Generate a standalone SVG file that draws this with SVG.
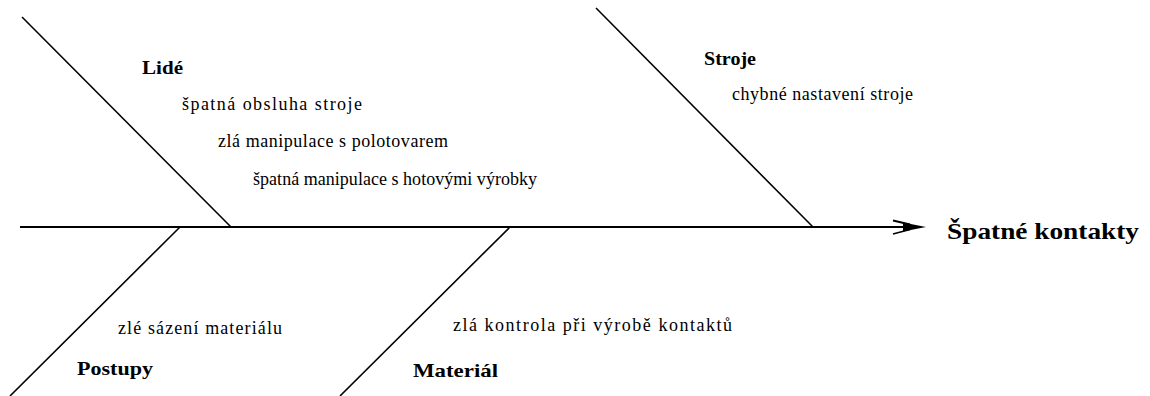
<svg xmlns="http://www.w3.org/2000/svg" width="1150" height="396" viewBox="0 0 1150 396">
  <style>
    .spine { stroke: #000; stroke-width: 2.2; fill: none; }
    .bone { stroke: #000; stroke-width: 1.6; fill: none; }
    .cat { font-weight: bold; font-size: 19px; }
    .cause { font-size: 18px; }
    .effect { font-weight: bold; font-size: 23px; }
  </style>
  <rect width="1150" height="396" fill="#fff"/>

  <!-- spine and bones -->
  <g id="connectors">
    <line class="spine" x1="20" y1="227" x2="912" y2="227"/>
    <!-- barbed arrowhead at the effect end -->
    <path d="M893,220.5 L910,224.5 M893,234 L910,229.5" stroke="#000" stroke-width="1.8" fill="none"/>
    <path d="M903,222.5 L926,227 L903,231.5 Z" fill="#000"/>
    <line class="bone" x1="22" y1="17" x2="231" y2="227"/>
    <line class="bone" x1="596" y1="8" x2="813" y2="227"/>
    <line class="bone" x1="180" y1="227" x2="10" y2="396"/>
    <line class="bone" x1="510" y1="227" x2="340" y2="396"/>
  </g>

  <g font-family="Liberation Serif, Times New Roman, DejaVu Serif, serif" fill="#000">
    <g id="lide">
      <text class="cat" x="142" y="74" textLength="41" lengthAdjust="spacingAndGlyphs">Lidé</text>
      <text class="cause" x="182" y="110" textLength="180" lengthAdjust="spacing">špatná obsluha stroje</text>
      <text class="cause" x="218" y="147" textLength="230" lengthAdjust="spacing">zlá manipulace s polotovarem</text>
      <text class="cause" x="253" y="185" textLength="284" lengthAdjust="spacing">špatná manipulace s hotovými výrobky</text>
    </g>

    <g id="stroje">
      <text class="cat" x="704" y="65" textLength="52" lengthAdjust="spacingAndGlyphs">Stroje</text>
      <text class="cause" x="732" y="100" textLength="181" lengthAdjust="spacing">chybné nastavení stroje</text>
    </g>

    <g id="postupy">
      <text class="cause" x="118" y="334" textLength="164" lengthAdjust="spacing">zlé sázení materiálu</text>
      <text class="cat" x="77" y="375" textLength="76" lengthAdjust="spacingAndGlyphs">Postupy</text>
    </g>

    <g id="material">
      <text class="cause" x="453" y="331" textLength="279" lengthAdjust="spacing">zlá kontrola při výrobě kontaktů</text>
      <text class="cat" x="413" y="377" textLength="85" lengthAdjust="spacingAndGlyphs">Materiál</text>
    </g>

    <g id="effect">
      <text class="effect" x="947" y="239" textLength="192" lengthAdjust="spacingAndGlyphs">Špatné kontakty</text>
    </g>
  </g>
</svg>
